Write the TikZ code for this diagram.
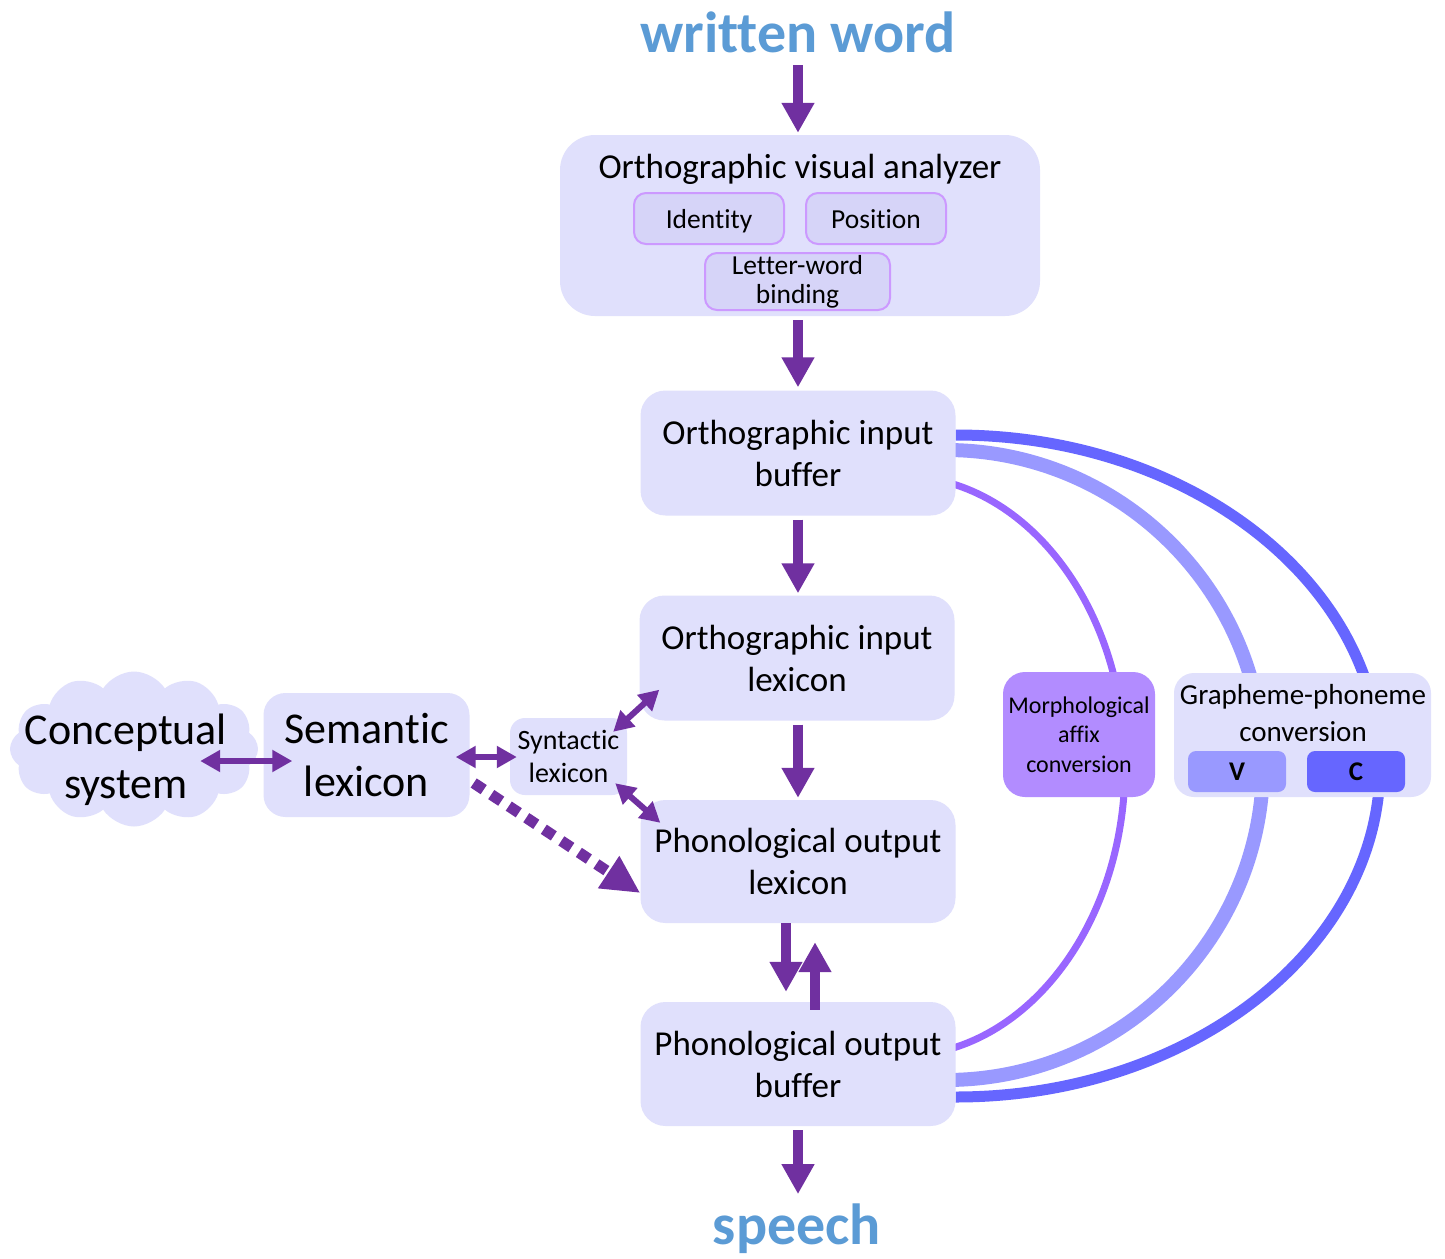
\documentclass[tikz,border=0pt]{standalone}
\usepackage{fontspec}
\setmainfont{Carlito}[Ligatures=CommonOff]
\usetikzlibrary{arrows.meta,shapes.symbols,backgrounds}
\definecolor{boxfill}{HTML}{E0E0FC}
\definecolor{subfill}{HTML}{D6D4F8}
\definecolor{subdraw}{HTML}{CC99FF}
\definecolor{arr}{HTML}{7030A0}
\definecolor{wwblue}{HTML}{5B9BD5}
\definecolor{morphfill}{HTML}{B28CFF}
\definecolor{cpurple}{HTML}{9966FF}
\definecolor{clight}{HTML}{9999FF}
\definecolor{cblue}{HTML}{6666FF}
\newcommand\myfs[2]{\fontsize{#1}{#2}\selectfont}
\begin{document}
\begin{tikzpicture}[x=1pt,y=-1pt,
  box/.style={fill=boxfill, rounded corners=25pt, inner sep=0pt, align=center,
    font=\myfs{35}{42}, minimum width=315pt, minimum height=125pt},
  subbox/.style={fill=subfill, draw=subdraw, line width=2pt, rounded corners=12pt,
    inner sep=0pt, align=center, font=\myfs{27.5}{29}},
  vcbox/.style={rounded corners=8pt, inner sep=0pt, minimum width=98pt,
    minimum height=41pt, font=\bfseries\myfs{27}{30}},
  title/.style={font=\bfseries\myfs{58}{70}, text=wwblue, anchor=base, inner sep=0pt},
  varrow/.style={draw=arr, line width=10pt, -{Triangle[width=31pt,length=30pt]}},
  darrow/.style={draw=arr, line width=6pt,
    {Triangle[width=21pt,length=20pt]}-{Triangle[width=21pt,length=20pt]}},
  dasharrow/.style={draw=arr, line width=11pt, dash pattern=on 12pt off 9pt,
    -{Triangle[width=36pt,length=38pt]}},
  curvepurple/.style={draw=cpurple, line width=7pt},
  curvelight/.style={draw=clight, line width=14pt},
  curveblue/.style={draw=cblue, line width=11pt}]
\useasboundingbox (0,0) rectangle (1445,1258);

% titles
\node[title] (ww) at (798,52) {written word};
\node[title] (sp) at (797,1244) {speech};

% orthographic visual analyzer
\node[box, minimum width=480pt, minimum height=181pt, rounded corners=35pt] (ova) at (800,225.5) {};
\node[font=\myfs{35}{42}, anchor=base, inner sep=0pt] (ovat) at (800,178) {Orthographic visual analyzer};
\node[subbox, minimum width=150pt, minimum height=51pt, text height=22pt, text depth=3pt] (ident) at (709,218.5) {Identity};
\node[subbox, minimum width=140pt, minimum height=51pt, text height=22pt, text depth=3pt] (posi) at (876,218.5) {Position};
\node[subbox, minimum width=185pt, minimum height=57pt] (lwb) at (797.5,281.5) {Letter-word\\binding};

% main column
\node[box] (oib) at (798,453) {Orthographic input\\buffer};
\node[box] (oil) at (797,658) {Orthographic input\\lexicon};
\node[box, minimum height=123pt] (pol) at (798,861.5) {Phonological output\\lexicon};
\node[box, minimum height=124pt] (pob) at (798,1064) {Phonological output\\buffer};

% left side
\node[cloud, cloud puffs=12, cloud puff arc=115, cloud ignores aspect, fill=boxfill,
  minimum width=248pt, minimum height=155pt, inner sep=0pt] (cs) at (134,749) {};
\node[font=\myfs{44}{54}, align=center, inner sep=0pt] (cst) at (126,760) {Conceptual\\system};
\node[box, font=\myfs{44}{53}, minimum width=206pt, minimum height=124pt, rounded corners=22pt]
  (sem) at (366.5,755) {Semantic\\lexicon};
\node[box, font=\myfs{28}{33}, minimum width=117pt, minimum height=77pt, rounded corners=15pt]
  (syn) at (568.5,756.5) {Syntactic\\lexicon};

% right side
\node[box, fill=morphfill, font=\myfs{24}{29.5}, minimum width=152pt, minimum height=125pt,
  rounded corners=22pt] (mac) at (1079,734.5) {Morphological\\affix\\conversion};
\node[box, minimum width=257pt, minimum height=124pt, rounded corners=20pt] (gpc) at (1302.5,735) {};
\node[font=\myfs{29}{37}, align=center, inner sep=0pt] (gpct) at (1303,713.5) {Grapheme-phoneme\\conversion};
\node[vcbox, fill=clight] (v) at (1237,771.5) {V};
\node[vcbox, fill=cblue] (c) at (1356,771.5) {C};

% vertical arrows
\draw[varrow] ([yshift=-13pt]ww.base) -- ([yshift=2pt]ova.north -| ww.base);
\draw[varrow] ([yshift=-4pt]ova.south -| oib.north) -- ([yshift=3pt]oib.north);
\draw[varrow] ([yshift=-4pt]oib.south) -- ([yshift=2pt]oil.north -| oib.south);
\draw[varrow] ([yshift=-4pt]oil.south -| pol.north) -- ([yshift=2pt]pol.north);
\draw[varrow] ([xshift=-12pt]pol.south) -- ([xshift=-12pt,yshift=10pt]pob.north);
\draw[varrow] ([xshift=17pt,yshift=-8pt]pob.north) -- ([xshift=17pt,yshift=-19pt]pol.south);
\draw[varrow] ([yshift=-4pt]pob.south) -- ([yshift=9pt]sp.north -| pob.south);

% left arrows
\draw[darrow] ([xshift=-58pt,yshift=-12pt]cs.east) -- ([xshift=29pt,yshift=-6pt]sem.west);
\draw[darrow] ([xshift=-14pt,yshift=-2pt]sem.east) -- ([xshift=7pt,yshift=-0.5pt]syn.west);
\draw[darrow] ([xshift=-14pt,yshift=-14pt]syn.north east) -- ([xshift=20pt,yshift=31pt]oil.south west);
\draw[darrow] ([xshift=-12pt,yshift=12pt]syn.south east) -- ([xshift=20pt,yshift=-23pt]pol.north west);
\draw[dasharrow] ([xshift=4pt,yshift=-28pt]sem.east) -- ([xshift=0pt,yshift=-31.5pt]pol.west);

% curves (behind boxes)
\begin{scope}[on background layer]
\fill[white] (0,0) rectangle (1445,1258);
\draw[curveblue] ([yshift=18pt]oib.east) .. controls (1189.7,435) and (1380,583.2) .. (1380,766)
  .. controls (1380,948.8) and (1189.7,1097) .. ([yshift=-33pt]pob.east);
\draw[curvelight] ([xshift=-10pt,yshift=3pt]oib.east) .. controls (1120.6,450) and (1263,591) .. (1263,765)
  .. controls (1263,939) and (1120.6,1080) .. ([xshift=-10pt,yshift=-16pt]pob.east);
\draw[curvepurple] ([xshift=-55pt,yshift=-23pt]oib.east) .. controls (1024.3,476) and (1125,605.8) .. (1125,766)
  .. controls (1125,926.2) and (1024.3,1056) .. ([xshift=-55pt,yshift=8pt]pob.east);
\end{scope}
\end{tikzpicture}
\end{document}
